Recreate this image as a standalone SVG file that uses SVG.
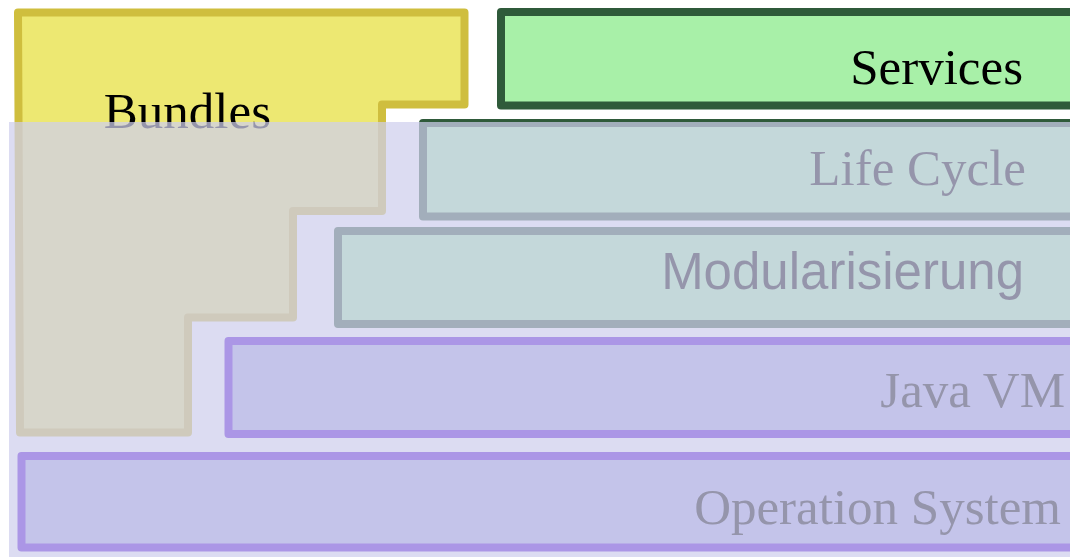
<svg xmlns="http://www.w3.org/2000/svg" width="1070" height="557" viewBox="0 0 1070 557">
<style>
.serif{font-family:"Liberation Serif","Times New Roman",serif;font-size:51px;text-anchor:end}
.sans{font-family:"Liberation Sans",Arial,sans-serif;font-size:51px;text-anchor:end}
.green{fill:#a8f0a8;stroke:#2f5a3a;stroke-width:8;stroke-linejoin:round}
.purple{fill:#c4c4ea;stroke:#ab96e6;stroke-width:8;stroke-linejoin:round}
.under{fill:#000}
.over{fill:#9595ab}
</style>
<rect width="1070" height="557" fill="#ffffff"/>
<g id="bundles">
<polygon points="18,12.5 464.5,12.5 464.5,104.5 382,104.5 382,211 293,211 293,317.5 188,317.5 188,432.5 20,432.5" fill="#ede872" stroke="#cfbe3e" stroke-width="8" stroke-linejoin="round"/>
<text class="serif" x="271" y="128">Bundles</text>
</g>
<g id="services">
<rect class="green" x="501" y="12" width="580" height="93.5"/>
<text class="serif" x="1023" y="84">Services</text>
</g>
<g id="lifecycle">
<rect class="green" x="423" y="123" width="660" height="93.5"/>
<text class="serif under" x="1026" y="185">Life Cycle</text>
</g>
<g id="modularisierung">
<rect class="green" x="338" y="231" width="745" height="93"/>
<text class="sans under" x="1024" y="289">Modularisierung</text>
</g>
<rect id="overlay" x="9" y="122" width="1070" height="440" fill="rgb(206,206,237)" fill-opacity="0.72"/>
<g id="javavm">
<rect class="purple" x="228.5" y="341" width="855" height="93"/>
<text class="serif over" x="1065" y="407">Java VM</text>
</g>
<g id="os">
<rect class="purple" x="21.5" y="456" width="1062" height="91.5"/>
<text class="serif over" x="1061" y="524">Operation System</text>
</g>
<g id="connectors"/>
</svg>
